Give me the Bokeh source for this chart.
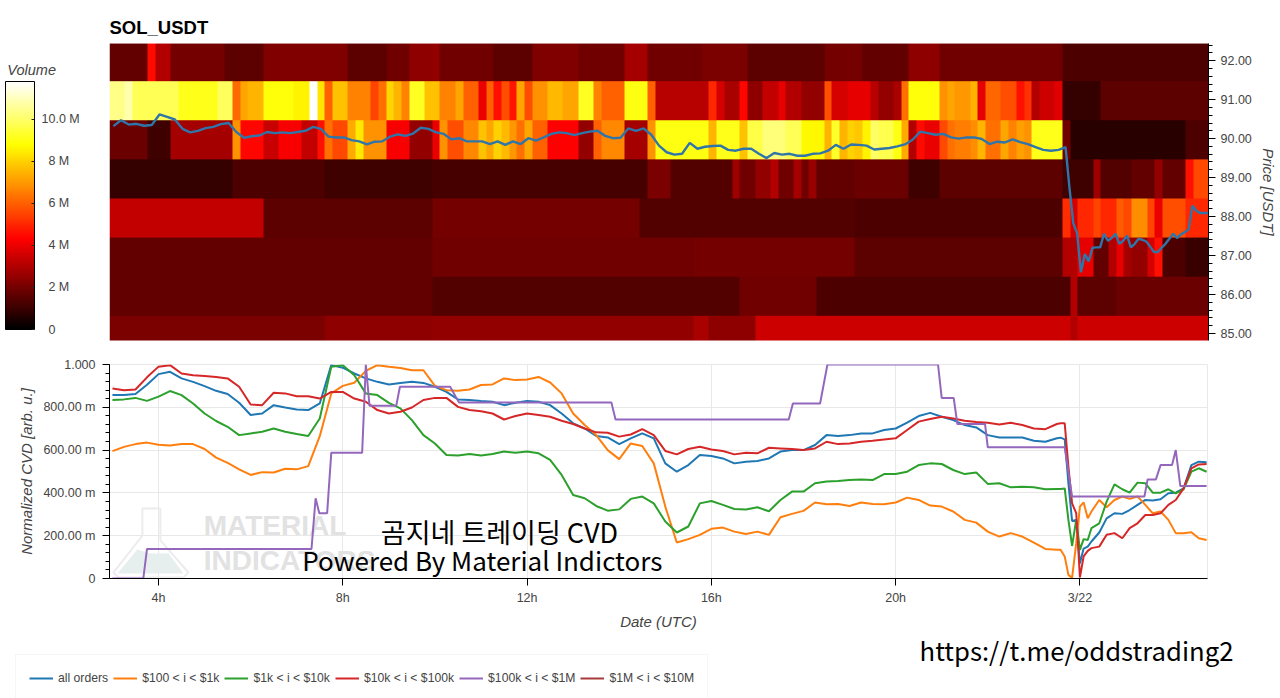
import numpy as np
from bokeh.core.properties import value
from bokeh.embed import file_html
from bokeh.layouts import column
from bokeh.models import ColorBar, FixedTicker, Label, LinearColorMapper
from bokeh.plotting import figure
from bokeh.resources import INLINE

# heatmap, volume in millions per 10 min column, one list per price level
row_92 = [1.7]*5 + [4.5] + [3.0]*2 + [2.0]*7 + [1.6]*5 + [2.2]*11 + [1.6]*5 + [1.9]*3 + [2.4]*3 + [2.5] + [1.9]*7 + [1.6]*5 + [2.2]*6 + [1.9]*6 + [2.8]*3 + [1.9]*7 + [2.1]*6 + [1.6]*10 + [2.0]*5 + [1.7]*6 + [2.4]*4 + [1.9]*16 + [1.3]*19
row_91 = [10.4]*2 + [10.8] + [9.8]*6 + [9.1]*5 + [9.9]*2 + [6.2, 7.2] + [7.5]*2 + [8.9]*4 + [8.6]*2 + [11.8, 8.3, 6.0] + [7.7]*2 + [6.6]*3 + [5.5, 6.3, 8.1, 7.5, 6.6] + [9.2]*2 + [7.7] \
    + [7.7] + [6.6]*2 + [7.2] + [6.0]*2 + [4.0, 6.0, 4.6, 5.7, 4.7, 7.2, 5.7] + [6.9]*2 + [7.6]*2 + [7.2]*2 + [9.2]*2 + [6.6] + [6.0]*3 + [9.0]*3 + [6.0] + [3.1]*7 + [5.0, 3.6] + [2.9]*2 + [4.4] + [2.4]*2 + [3.3]*2 + [3.9] + [3.0]*2 + [2.5]*3 + [5.7] + [3.6]*2 + [3.9]*2 \
    + [3.9, 3.1, 2.5, 2.5, 2.9, 6.3] + [8.9]*4 + [6.9, 7.2, 7.0, 7.0, 7.5, 3.9, 6.1, 6.1, 5.7, 5.7, 4.6, 5.2, 3.0, 3.5, 3.5, 3.8] + [0.9]*5 + [1.6]*14
row_90 = [1.8]*5 + [1.1]*3 + [2.8]*8 + [6.9] + [4.4]*3 + [3.4]*2 + [4.2]*3 + [3.3]*2 + [4.6, 6.3] + [5.6]*2 + [7.3, 8.4] + [6.9]*3 + [4.2]*3 + [2.5]*3 \
    + [4.0, 6.9] + [5.7]*2 + [6.7]*2 + [7.7, 7.2, 8.0, 7.6, 7.0, 6.3, 7.2] + [6.0]*2 + [4.3]*4 + [2.5]*2 + [6.0] + [6.7]*3 + [2.8]*3 + [6.9] + [9.0]*7 + [7.5] + [9.1]*3 + [7.7] + [9.6]*2 + [10.2]*3 + [9.8]*2 + [8.7]*3 + [7.5, 9.3, 7.5, 8.0, 7.8] \
    + [8.6, 10.0, 9.7, 9.7, 9.0, 7.3, 3.0, 4.5, 4.0, 4.0, 5.6, 6.3, 6.5, 6.5, 6.8, 7.5, 6.3, 6.3, 7.2, 6.6, 7.1, 6.9] + [9.1]*4 + [1.9] + [0.7]*15 + [1.3]*3
row_89 = [0.9]*16 + [1.3]*12 + [1.1]*14 + [1.2]*28 + [2.1]*3 + [1.4]*8 + [2.7] + [1.9]*2 + [2.5]*2 + [3.0] + [1.9]*2 + [2.8, 1.9, 2.6] + [1.7]*5 + [1.8]*7 + [1.1]*4 + [1.6]*16 + [1.1]*4 + [2.7] + [1.4]*4 + [1.7]*3 + [2.5] + [1.7]*3 + [4.6] + [5.6]*2
row_88 = [3.3]*20 + [1.6]*22 + [2.0]*27 + [1.4]*28 + [1.3]*27 + [5.1, 3.6, 5.0, 5.0, 5.5, 5.0, 5.0, 5.9, 5.6, 6.8, 6.8, 5.5, 4.0] + [5.7]*3 + [5.0]*3
row_87 = [1.7]*42 + [1.9]*34 + [2.0]*21 + [1.6]*27 + [3.0, 3.0, 3.9, 3.9, 1.7, 1.7, 3.0, 3.9, 2.8, 2.5, 2.5, 3.6, 4.6] + [1.3]*3 + [1.0]*3
row_86 = [1.7]*42 + [1.4]*40 + [1.9]*10 + [1.3]*5 + [1.3]*28 + [3.0] + [1.6]*5 + [1.8]*12
row_85 = [2.1]*28 + [2.4]*14 + [2.5]*34 + [2.9]*2 + [2.4]*6 + [3.5]*41 + [3.0] + [3.5]*17

# price, one value per 10 min column until the drop, then every 5 min
price_before = [
    90.32, 90.47, 90.36, 90.38, 90.33, 90.35, 90.62, 90.56, 90.49, 90.25, 90.16, 90.20, 90.27, 90.30, 90.37, 90.40,
    90.17, 90.02, 90.06, 90.08, 90.17, 90.14, 90.16, 90.14, 90.17, 90.20, 90.30, 90.25, 90.05, 90.03, 90.03, 89.96,
    89.93, 89.85, 89.92, 89.93, 90.05, 90.11, 90.07, 90.13, 90.28, 90.25, 90.16, 90.12, 89.98, 90.01, 89.93, 89.93,
    89.93, 89.86, 89.93, 89.84, 89.93, 89.86, 90.01, 89.95, 90.03, 90.12, 90.16, 90.14, 90.09, 90.14, 90.18, 90.20,
    90.07, 90.01, 90.02, 90.26, 90.20, 90.26, 90.10, 89.82, 89.65, 89.59, 89.61, 89.89, 89.74, 89.79, 89.81, 89.82,
    89.71, 89.69, 89.74, 89.74, 89.61, 89.50, 89.63, 89.59, 89.61, 89.56, 89.56, 89.61, 89.62, 89.69, 89.84, 89.74,
    89.85, 89.84, 89.82, 89.72, 89.74, 89.76, 89.80, 89.85, 89.97, 90.18, 90.14, 90.10, 90.12, 90.03, 90.00, 90.03,
    90.03, 89.99, 89.86, 89.92, 89.90, 89.98, 89.91, 89.86, 89.78, 89.71, 89.69, 89.71,
]
price_after = [
    89.78, 88.75, 87.83, 87.57, 86.57, 87.04, 86.85, 87.20, 87.21, 87.21, 87.56, 87.38, 87.45, 87.56, 87.30, 87.38,
    87.51, 87.21, 87.30, 87.43, 87.40, 87.36, 87.23, 87.09, 87.09, 87.20, 87.30, 87.43, 87.56, 87.45, 87.54, 87.60,
    87.67, 88.28, 88.15, 88.09, 88.09, 88.09,
]

# cvd lines, hours since 0h on 3/21, every 15 min and closer after the drop
cvd_time_tail = [23.58, 23.67, 23.75, 23.83, 23.92, 24.0, 24.08, 24.17, 24.25, 24.42, 24.58, 24.75, 24.92, 25.08, 25.25, 25.42, 25.58, 25.75, 25.92, 26.08, 26.25, 26.42, 26.58, 26.75]

all_orders = [
    .857, .857, .862, .905, .955, .966, .935, .919, .899, .877, .862, .821, .764, .771, .810, .799, .790, .787, .818, .997, .985, .958, .935, .919, .907, .914, .919, .914,
    .896, .872, .837, .834, .829, .826, .810, .821, .830, .826, .810, .771, .725, .701, .666, .659, .628, .655, .678, .655, .538, .499, .530, .577, .572, .561, .538, .546, .549, .561, .593, .600, .600, .624, .670, .666, .670,
    .678, .678, .694, .701, .728, .759, .774, .756, .740, .717, .706, .670, .659, .659, .659, .644, .639, .655,
    .658, .650, .445, .269, .274, .070, .140, .149, .173, .215, .281, .305, .302, .320, .344, .367, .364, .370, .398, .401, .421, .530, .546, .543,
]
usd_100_1k = [
    .595, .615, .628, .635, .625, .622, .628, .628, .605, .565, .540, .510, .484, .497, .495, .513, .510, .525, .665, .865, .900, .915, .970, .997, .990, .984, .973, .973,
    .900, .880, .877, .883, .904, .907, .935, .927, .930, .942, .916, .865, .771, .717, .670, .600, .558, .631, .619, .538, .336, .168, .184, .204, .232, .238, .219, .208, .219, .204, .286, .302, .316, .355, .347, .348, .339,
    .355, .348, .347, .355, .378, .367, .341, .336, .313, .274, .261, .219, .196, .212, .196, .168, .138, .134,
    .134, .103, .017, .003, .165, .336, .356, .281, .313, .367, .333, .367, .383, .372, .383, .344, .305, .313, .274, .212, .212, .216, .188, .180,
]
usd_1k_10k = [
    .834, .837, .844, .830, .850, .876, .857, .818, .771, .736, .709, .670, .678, .686, .701, .686, .675, .666, .748, .989, .997, .950, .865, .857, .821, .795, .740, .670,
    .631, .577, .575, .582, .575, .582, .593, .588, .593, .585, .554, .484, .390, .375, .339, .317, .323, .372, .383, .351, .266, .215, .243, .351, .362, .344, .325, .322, .333, .314, .367, .406, .406, .445, .453, .456, .460,
    .463, .460, .488, .488, .499, .530, .538, .535, .507, .488, .495, .442, .445, .426, .429, .426, .417, .418,
    .418, .421, .274, .152, .274, .134, .184, .180, .235, .258, .359, .440, .417, .401, .448, .445, .401, .401, .417, .398, .417, .499, .515, .499,
]
usd_10k_100k = [
    .888, .880, .883, .940, .990, .997, .958, .950, .946, .942, .935, .896, .813, .810, .868, .865, .852, .852, .841, .872, .872, .841, .826, .787, .771, .779, .799, .834,
    .844, .844, .802, .787, .782, .771, .743, .759, .771, .764, .756, .737, .722, .701, .683, .681, .663, .673, .698, .670, .596, .580, .605, .616, .603, .596, .580, .588, .585, .611, .608, .605, .600, .608, .639, .628, .631,
    .639, .644, .650, .655, .694, .733, .745, .756, .748, .737, .731, .728, .720, .728, .717, .701, .698, .722,
    .725, .725, .523, .351, .305, .005, .103, .129, .142, .149, .204, .212, .188, .235, .258, .297, .297, .305, .344, .367, .421, .515, .533, .535,
]
usd_100k_1m_time = [
    3.0, 3.67, 3.75, 7.32, 7.41, 7.49, 7.66, 7.75, 8.42, 8.5, 8.58, 9.16, 9.24, 10.33, 10.52, 13.83, 13.92, 17.68, 17.77, 18.36, 18.52,
    20.92, 21.0, 21.26, 21.34, 21.94, 22.0, 23.67, 23.83, 25.4, 25.47, 25.65, 25.75, 26.0, 26.08, 26.18, 26.75,
]
usd_100k_1m = [
    0, 0, .138, .138, .375, .305, .305, .588, .588, 1.0, .807, .807, .896, .896, .823, .823, .743, .743, .818, .818, 1.0,
    1.0, .844, .844, .722, .722, .613, .613, .383, .383, .463, .463, .530, .530, .600, .432, .432,
]

legend_names = ["all orders", "$100 < i < $1k", "$1k < i < $10k", "$10k < i < $100k", "$100k < i < $1M", "$1M < i < $10M"]
line_colors = ["#1f77b4", "#ff7f0e", "#2ca02c", "#d62728", "#9467bd", "#a83a3a"]

price_ticks = [85, 86, 87, 88, 89, 90, 91, 92]
volume_ticks = {0: "0", 2e6: "2 M", 4e6: "4 M", 6e6: "6 M", 8e6: "8 M", 10e6: "10.0 M"}
cvd_ticks = {0: "0", 0.2: "200.00 m", 0.4: "400.00 m", 0.6: "600.00 m", 0.8: "800.00 m", 1: "1.000"}
time_ticks = {4: "4h", 8: "8h", 12: "12h", 16: "16h", 20: "20h", 24: "3/22"}

FONT = "Liberation Sans"
TICK_COLOR = "#444444"
T0 = 2.936
X_END = T0 + 143 / 6


def hot_palette(n=256):
    colors = []
    for k in range(n):
        f = k / (n - 1)
        r = min(f / 0.365, 1)
        g = min(max((f - 0.365) / 0.381, 0), 1)
        b = max((f - 0.746) / 0.254, 0)
        colors.append("#%02x%02x%02x" % (int(r * 255), int(g * 255), int(b * 255)))
    return colors


def style_axis(axis):
    axis.major_label_text_font = FONT
    axis.major_label_text_font_size = "12.5px"
    axis.major_label_text_color = TICK_COLOR
    axis.axis_label_text_font = FONT
    axis.axis_label_text_font_size = "15px"
    axis.axis_label_text_font_style = "italic"
    axis.axis_label_text_color = TICK_COLOR
    axis.major_tick_in = 0
    axis.major_tick_out = 7
    axis.minor_tick_in = 0
    axis.minor_tick_out = 4


# top figure
heat = np.array([row_85, row_86, row_87, row_88, row_89, row_90, row_91, row_92]) * 1e6
mapper = LinearColorMapper(palette=hot_palette(), low=0, high=11.8e6)

top = figure(
    width=1280, height=350, frame_width=1099, frame_height=297,
    min_border_left=109, min_border_right=72, min_border_top=43, min_border_bottom=10,
    x_range=(T0, X_END), y_range=(84.82, 92.44),
    x_axis_location=None, y_axis_location="right",
    title="SOL_USDT", toolbar_location=None, output_backend="svg",
)
top.title.text_font = FONT
top.title.text_font_size = "18.5px"
top.title.text_font_style = "bold"
top.title.text_color = "#000000"
top.title.offset = 0
top.title.standoff = 12
top.outline_line_color = None
top.grid.visible = False

top.image(image=[heat], x=T0, y=84.45, dw=143 / 6, dh=8, color_mapper=mapper)

price_time = np.concatenate([T0 + (np.arange(len(price_before)) + 0.5) / 6, 23.67 + np.arange(len(price_after)) / 12])
top.line(price_time, price_before + price_after, line_color="#2f75aa", line_width=2.4)

style_axis(top.yaxis[0])
top.yaxis[0].axis_label = "Price [USDT]"
top.yaxis[0].ticker = FixedTicker(ticks=price_ticks, minor_ticks=list(np.arange(84.8, 92.5, 0.2)))
top.yaxis[0].major_label_overrides = {t: "%.2f" % t for t in price_ticks}

# the bar only left aligns its labels, nbsp pushes the short ones in like the original
bar_labels = {t: (text if t == 10e6 else "\u00a0\u00a0" + text) for t, text in volume_ticks.items()}
bar = ColorBar(
    color_mapper=mapper, width=29, height=248, location=(-104, 11), padding=0,
    ticker=FixedTicker(ticks=list(volume_ticks)), major_label_overrides=bar_labels,
    major_label_text_font=FONT, major_label_text_font_size="12.5px", major_label_text_color=TICK_COLOR,
    major_label_text_align="center", label_standoff=7,
    major_tick_line_color="#222222", major_tick_in=3, minor_tick_line_color=None,
    bar_line_color="#000000", background_fill_color=None, border_line_color=None,
)
top.add_layout(bar, "center")
# annotations in the center get clipped to the frame, side panels do not
top.add_layout(Label(x=0.72, y=91.76, text="Volume", text_font=FONT, text_font_size="14.5px", text_font_style="italic",
                     text_color=TICK_COLOR, text_baseline="middle"), "left")

# bottom figure
bottom = figure(
    width=1280, height=282,
    min_border_left=109, min_border_right=73, min_border_top=14, min_border_bottom=54,
    x_range=top.x_range, y_range=(0, 1),
    toolbar_location=None, output_backend="svg",
)
bottom.outline_line_color = "#e8e8e8"
bottom.grid.grid_line_color = "#e8e8e8"

style_axis(bottom.xaxis[0])
bottom.xaxis[0].axis_label = "Date (UTC)"
bottom.xaxis[0].ticker = FixedTicker(ticks=list(time_ticks))
bottom.xaxis[0].major_label_overrides = time_ticks
style_axis(bottom.yaxis[0])
bottom.yaxis[0].axis_label = "Normalized CVD [arb. u.]"
bottom.yaxis[0].major_label_standoff = 7
bottom.yaxis[0].ticker = FixedTicker(ticks=list(cvd_ticks), minor_ticks=list(np.arange(0, 1.01, 0.04)))
bottom.yaxis[0].major_label_overrides = cvd_ticks

# watermark behind the lines
bottom.patch([3.65, 4.04, 4.04, 4.65, 4.54, 3.13, 3.02, 3.65], [.327, .327, .178, .028, .005, .005, .028, .2],
             fill_color=None, line_color="#ececec", line_width=2)
bottom.patch([3.11, 3.54, 3.83, 4.22, 4.54], [.023, .136, .117, .117, .023], fill_color="#e6eeee", line_color=None)
bottom.text([4.98, 4.98], [.248, .084], text=["MATERIAL", "INDICATORS"], text_font=value(FONT),
            text_font_style="bold", text_font_size="28px", text_color="#e2e2e2", text_baseline="middle")

cvd_time = list(np.arange(3, 23.51, 0.25)) + cvd_time_tail
series = [all_orders, usd_100_1k, usd_1k_10k, usd_10k_100k]
for values, color in zip(series, line_colors):
    bottom.line(cvd_time, values, line_color=color, line_width=2)
bottom.line(usd_100k_1m_time, usd_100k_1m, line_color=line_colors[4], line_width=2)

# texts laid over the picture
bottom.add_layout(Label(x=11.40, y=.22, text="곰지네 트레이딩 CVD", text_font="Noto Sans CJK KR", text_font_size="27px",
                        text_color="#000000", text_align="center", text_baseline="middle"))
bottom.add_layout(Label(x=11.03, y=.088, text="Powered By Material Indictors", text_font="Noto Sans CJK KR", text_font_size="26px",
                        text_color="#000000", text_align="center", text_baseline="middle"))

# footer strip, its frame is the whole canvas so nothing gets clipped
footer = figure(
    width=1280, height=66, min_border=0, frame_align=False,
    x_range=(0, 1280), y_range=(0, 66),
    x_axis_location=None, y_axis_location=None,
    toolbar_location=None, output_backend="svg",
)
footer.outline_line_color = None
footer.grid.visible = False
# legend swatch only, these lines have nothing to draw in the strip
for name, color in zip(legend_names, line_colors):
    footer.line([np.nan], [np.nan], line_color=color, line_width=2, legend_label=name)

legend = footer.legend[0]
legend.orientation = "horizontal"
legend.location = (15, -4)
legend.border_line_color = "#eeeeee"
legend.label_text_font = FONT
legend.label_text_font_size = "12.2px"
legend.label_text_color = TICK_COLOR
legend.glyph_width = 24
legend.label_standoff = 5
legend.spacing = 5
legend.padding = 13
legend.margin = 0

footer.add_layout(Label(x=1076, y=49, text="https://t.me/oddstrading2", text_font="Noto Sans CJK KR", text_font_size="25.7px",
                        text_color="#000000", text_align="center", text_baseline="middle"))

page = column(top, bottom, footer, spacing=0, styles={"position": "absolute", "left": "0px", "top": "0px"})
open("out.html", "w").write(file_html(page, INLINE))
